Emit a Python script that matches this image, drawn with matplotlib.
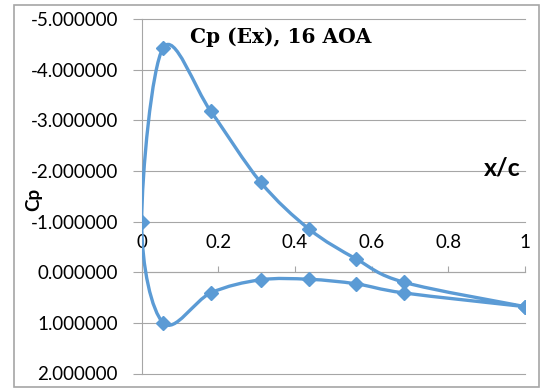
import matplotlib
matplotlib.use("Agg")
import matplotlib.pyplot as plt
from matplotlib.path import Path
from matplotlib.patches import PathPatch, Rectangle
import numpy as np

# ---- data ----
x_stations = [0.0, 0.056, 0.18, 0.31, 0.437, 0.56, 0.685, 1.0]
cp_upper = [-1.0, -4.43, -3.18, -1.78, -0.85, -0.26, 0.20, 0.68]
cp_lower = [-1.0, 1.00, 0.41, 0.15, 0.14, 0.23, 0.41, 0.68]
y_ticks = [-5, -4, -3, -2, -1, 0, 1, 2]
x_ticks = [0, 0.2, 0.4, 0.6, 0.8, 1]
x_tick_labels = ["0", "0.2", "0.4", "0.6", "0.8", "1"]
title = "Cp (Ex), 16 AOA"

BLUE = "#5B9BD5"
GRID = "#A6A6A6"

W, H = 540, 389
fig = plt.figure(figsize=(W / 100, H / 100), dpi=100)

left_px, right_px, top_px, bot_px = 141.7, 525, 19, 373.5
ax = fig.add_axes([left_px / W, (H - bot_px) / H, (right_px - left_px) / W, (bot_px - top_px) / H])

# single series: upper surface from TE to LE, then lower surface back to TE
xs = list(reversed(x_stations)) + x_stations[1:]
ys = list(reversed(cp_upper)) + cp_lower[1:]
P = np.column_stack([xs, ys])

# Excel-like smoothed line (Catmull-Rom expressed as cubic Bezier segments)
verts = [tuple(P[0])]
codes = [Path.MOVETO]
n = len(P)
for i in range(n - 1):
    p0 = P[i - 1] if i > 0 else P[i]
    p1 = P[i]
    p2 = P[i + 1]
    p3 = P[i + 2] if i + 2 < n else P[i + 1]
    c1 = p1 + (p2 - p0) / 6.0
    c2 = p2 - (p3 - p1) / 6.0
    verts += [tuple(c1), tuple(c2), tuple(p2)]
    codes += [Path.CURVE4] * 3
ax.add_patch(PathPatch(Path(verts, codes), facecolor="none", edgecolor=BLUE,
                       lw=2.4, capstyle="round", joinstyle="round", zorder=3))
ax.plot(xs, ys, linestyle="none", marker="D", markersize=7, color=BLUE, zorder=4)

ax.set_xlim(0, 1)
ax.set_ylim(2, -5)

# y axis
ax.set_yticks(y_ticks)
ax.set_yticklabels(["%.6f" % v if v != 0 else "0.000000" for v in y_ticks])
ax.tick_params(axis="y", direction="out", length=6.5, width=0.8, color=GRID,
               pad=10.5, labelsize=13.5, labelcolor="#000000")
for lab in ax.get_yticklabels():
    lab.set_fontfamily("Lato")

# x axis placed at Cp = 0, ticks and labels above it
ax.xaxis.set_ticks_position("top")
ax.spines["top"].set_position(("data", 0))
ax.spines["top"].set_color(GRID)
ax.spines["top"].set_linewidth(0.8)
ax.set_xticks(x_ticks)
ax.set_xticklabels(x_tick_labels)
ax.tick_params(axis="x", direction="out", length=4.5, width=0.8, color=GRID,
               pad=11, labelsize=13.5, labelcolor="#000000")
for lab in ax.get_xticklabels():
    lab.set_fontfamily("Lato")

ax.spines["left"].set_color(GRID)
ax.spines["left"].set_linewidth(0.8)
ax.spines["right"].set_visible(False)
ax.spines["bottom"].set_visible(False)

ax.yaxis.grid(True, color=GRID, lw=0.8)
ax.xaxis.grid(False)
for gl in ax.yaxis.get_gridlines():
    gl.set_clip_on(False)
ax.set_axisbelow(True)
ax.patch.set_alpha(0)

# texts
fig.text(281 / W, 1 - 37 / H, title, ha="center", va="center",
         fontfamily="DejaVu Serif", fontweight="bold", fontsize=14.5)
fig.text(502 / W, 1 - 168 / H, "x/c", ha="center", va="center",
         fontfamily="Lato", fontweight="bold", fontsize=18)
fig.text(34 / W, 1 - 199 / H, "Cp", ha="center", va="center", rotation=90,
         fontfamily="Lato", fontweight="bold", fontsize=13.5)

# chart border
fig.patches.append(Rectangle((14 / W, 1 - 387 / H), (539 - 14) / W, (387 - 5) / H,
                             transform=fig.transFigure, fill=False,
                             edgecolor="#A6A6A6", lw=1.2))

fig.savefig("out.png", dpi=100)
